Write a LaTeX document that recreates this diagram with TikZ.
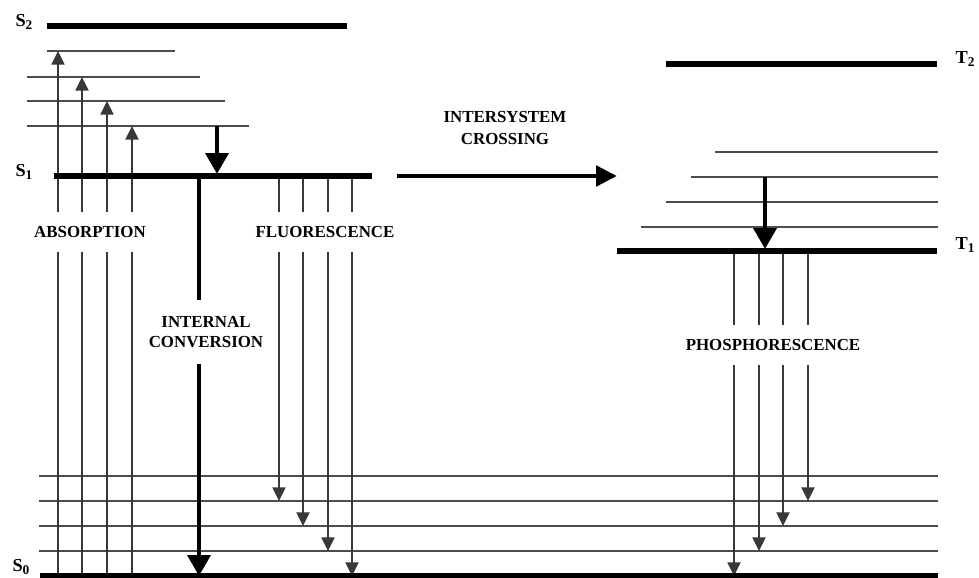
\documentclass[tikz,border=0pt]{standalone}
\usepackage{fontspec}
\setmainfont{Liberation Serif}
\usetikzlibrary{arrows.meta}

\newcommand{\statelab}[2]{#1\raisebox{-0.45ex}{\fontsize{9.5}{9.5}\selectfont #2}}

\begin{document}
\begin{tikzpicture}[
  x=0.025cm,
  y=-0.025cm,
  every node/.style={font=\fontsize{12}{14}\selectfont\bfseries, inner sep=0pt},
  state/.style={line width=3.6pt},
  vib/.style={draw=black!70, line width=0.95pt},
  transition/.style={
    draw=black!78,
    line width=0.95pt,
    -{Triangle[width=3.3mm,length=3.4mm]}
  },
  relax/.style={line width=3.4pt, -{Triangle[width=5.6mm,length=5.2mm]}},
  process/.style={fill=white, minimum height=0.98cm, inner xsep=2pt},
  state label/.style={font=\fontsize{13}{13}\selectfont\bfseries}
]
\useasboundingbox (0,0) rectangle (979,578);

% electronic states
\coordinate (S2) at (47,26);   \coordinate (S2e) at (347,26);
\coordinate (S1) at (54,176);  \coordinate (S1e) at (372,176);
\coordinate (S0) at (40,576);  \coordinate (S0e) at (938,576);
\coordinate (T2) at (666,64);  \coordinate (T2e) at (937,64);
\coordinate (T1) at (617,251); \coordinate (T1e) at (937,251);

% vibrational levels
\coordinate (sv1) at (47,51);  \coordinate (sv1e) at (175,51);
\coordinate (sv2) at (27,77);  \coordinate (sv2e) at (200,77);
\coordinate (sv3) at (27,101); \coordinate (sv3e) at (225,101);
\coordinate (sv4) at (27,126); \coordinate (sv4e) at (249,126);
\coordinate (gv1) at (39,476); \coordinate (gv1e) at (938,476);
\coordinate (gv2) at (39,501); \coordinate (gv2e) at (938,501);
\coordinate (gv3) at (39,526); \coordinate (gv3e) at (938,526);
\coordinate (gv4) at (39,551); \coordinate (gv4e) at (938,551);
\coordinate (tv1) at (715,152); \coordinate (tv1e) at (938,152);
\coordinate (tv2) at (691,177); \coordinate (tv2e) at (938,177);
\coordinate (tv3) at (666,202); \coordinate (tv3e) at (938,202);
\coordinate (tv4) at (641,227); \coordinate (tv4e) at (938,227);

\draw[vib] (sv1) -- (sv1e);
\draw[vib] (sv2) -- (sv2e);
\draw[vib] (sv3) -- (sv3e);
\draw[vib] (sv4) -- (sv4e);
\draw[vib] (gv1) -- (gv1e);
\draw[vib] (gv2) -- (gv2e);
\draw[vib] (gv3) -- (gv3e);
\draw[vib] (gv4) -- (gv4e);
\draw[vib] (tv1) -- (tv1e);
\draw[vib] (tv2) -- (tv2e);
\draw[vib] (tv3) -- (tv3e);
\draw[vib] (tv4) -- (tv4e);

% absorption
\draw[transition] (58,0 |- S0) -- (58,0 |- sv1);
\draw[transition] (82,0 |- S0) -- (82,0 |- sv2);
\draw[transition] (107,0 |- S0) -- (107,0 |- sv3);
\draw[transition] (132,0 |- S0) -- (132,0 |- sv4);

% fluorescence
\draw[transition] (279,0 |- S1) -- (279,0 |- gv2);
\draw[transition] (303,0 |- S1) -- (303,0 |- gv3);
\draw[transition] (328,0 |- S1) -- (328,0 |- gv4);
\draw[transition] (352,0 |- S1) -- (352,0 |- S0);

% phosphorescence
\draw[transition] (734,0 |- T1) -- (734,0 |- S0);
\draw[transition] (759,0 |- T1) -- (759,0 |- gv4);
\draw[transition] (783,0 |- T1) -- (783,0 |- gv3);
\draw[transition] (808,0 |- T1) -- (808,0 |- gv2);

\draw[state] (S2) -- (S2e);
\draw[state] (S1) -- (S1e);
\draw[state] (S0) -- (S0e);
\draw[state] (T2) -- (T2e);
\draw[state] (T1) -- (T1e);

% relaxation and crossing
\draw[relax] (217,0 |- sv4) -- (217,174);
\draw[relax] (765,0 |- tv2) -- (765,249);
\draw[relax] (199,0 |- S1) -- (199,0 |- S0);
\draw[line width=3.4pt, -{Triangle[width=5mm,length=5.2mm]}] (397,0 |- S1) -- (617,0 |- S1);

\node[state label] (lS2) at (24,22) {\statelab{S}{2}};
\node[state label] (lS1) at (24,172) {\statelab{S}{1}};
\node[state label] (lS0) at (21,567) {\statelab{S}{0}};
\node[state label] (lT2) at (965,59) {\statelab{T}{2}};
\node[state label] (lT1) at (965,245) {\statelab{T}{1}};

\node[process] (absorption) at (90,232) {ABSORPTION};
\node[process] (fluorescence) at (325,232) {FLUORESCENCE};
\node[process] (phosphorescence) at (773,345) {PHOSPHORESCENCE};
\node[fill=white, minimum width=3.62cm, minimum height=1.62cm, align=center,
  font=\fontsize{12}{14.2}\selectfont\bfseries] (ic) at (206,332) {INTERNAL\\CONVERSION};
\node[align=center, font=\fontsize{12}{15}\selectfont\bfseries] (isc) at (505,128) {INTERSYSTEM\\CROSSING};
\end{tikzpicture}
\end{document}
